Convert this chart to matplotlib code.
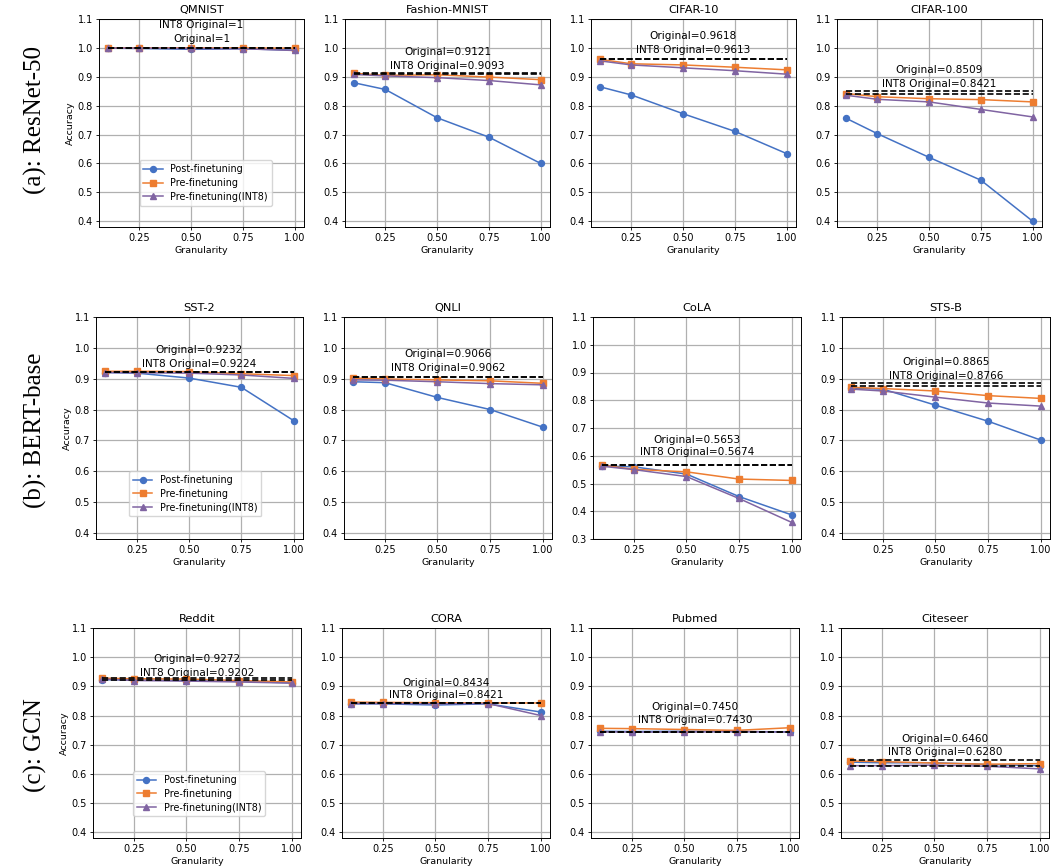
import numpy as np
import matplotlib
matplotlib.use('Agg')
import matplotlib.pyplot as plt

plt.rcParams['font.family'] = 'DejaVu Sans'
plt.rcParams['font.size'] = 6.8

# granularity values on the x axis
granularity = [0.1, 0.25, 0.5, 0.75, 1.0]

# dataset names, row by row
names = ['QMNIST', 'Fashion-MNIST', 'CIFAR-10', 'CIFAR-100',
         'SST-2', 'QNLI', 'CoLA', 'STS-B',
         'Reddit', 'CORA', 'Pubmed', 'Citeseer']

# original accuracies (fp32 and INT8), as printed in each panel
original = ['1', '0.9121', '0.9618', '0.8509',
            '0.9232', '0.9066', '0.5653', '0.8865',
            '0.9272', '0.8434', '0.7450', '0.6460']
int8_original = ['1', '0.9093', '0.9613', '0.8421',
                 '0.9224', '0.9062', '0.5674', '0.8766',
                 '0.9202', '0.8421', '0.7430', '0.6280']

# accuracy curves
post_ft = [
    [0.999, 0.998, 0.995, 0.997, 0.992],
    [0.879, 0.856, 0.758, 0.691, 0.600],
    [0.865, 0.837, 0.772, 0.711, 0.634],
    [0.756, 0.703, 0.621, 0.542, 0.400],
    [0.920, 0.918, 0.902, 0.872, 0.764],
    [0.890, 0.887, 0.839, 0.800, 0.743],
    [0.563, 0.560, 0.534, 0.453, 0.387],
    [0.869, 0.866, 0.814, 0.762, 0.701],
    [0.923, 0.922, 0.920, 0.917, 0.912],
    [0.840, 0.840, 0.836, 0.840, 0.812],
    [0.746, 0.745, 0.746, 0.745, 0.744],
    [0.640, 0.638, 0.638, 0.632, 0.628],
]
pre_ft = [
    [1.000, 1.000, 1.000, 1.000, 0.999],
    [0.912, 0.905, 0.907, 0.899, 0.890],
    [0.960, 0.945, 0.941, 0.933, 0.924],
    [0.842, 0.831, 0.824, 0.821, 0.813],
    [0.924, 0.924, 0.923, 0.916, 0.910],
    [0.902, 0.899, 0.896, 0.893, 0.885],
    [0.566, 0.551, 0.542, 0.516, 0.511],
    [0.872, 0.868, 0.860, 0.845, 0.836],
    [0.928, 0.926, 0.925, 0.920, 0.915],
    [0.846, 0.845, 0.844, 0.843, 0.843],
    [0.756, 0.755, 0.752, 0.749, 0.758],
    [0.644, 0.642, 0.637, 0.633, 0.635],
]
pre_ft_int8 = [
    [0.999, 0.999, 0.998, 0.997, 0.991],
    [0.908, 0.903, 0.897, 0.887, 0.872],
    [0.955, 0.941, 0.931, 0.921, 0.909],
    [0.836, 0.822, 0.813, 0.787, 0.761],
    [0.920, 0.919, 0.918, 0.912, 0.901],
    [0.896, 0.895, 0.890, 0.884, 0.880],
    [0.562, 0.550, 0.525, 0.446, 0.360],
    [0.866, 0.860, 0.840, 0.821, 0.811],
    [0.925, 0.920, 0.918, 0.915, 0.911],
    [0.841, 0.841, 0.840, 0.841, 0.800],
    [0.744, 0.743, 0.743, 0.745, 0.743],
    [0.628, 0.628, 0.630, 0.626, 0.617],
]

row_labels = ['(a): ResNet-50', '(b): BERT-base', '(c): GCN']

# layout in pixels (left, top, width, height) for each panel
W, H = 1052, 867
rects = [
    (99, 19, 205, 208), (345, 19, 205, 208), (591, 19, 205, 208), (837, 19, 205, 208),
    (96, 317, 207, 222), (344, 317, 208, 222), (593, 317, 208, 222), (842, 317, 208, 222),
    (93, 628, 208, 210), (342, 628, 208, 210), (591, 628, 208, 210), (841, 628, 208, 210),
]
# y of the two annotation lines (Original, INT8 Original) in data units
text_y = [
    (1.030, 1.079), (0.985, 0.936), (1.041, 0.991), (0.925, 0.876),
    (0.994, 0.948), (0.981, 0.935), (0.658, 0.612), (0.955, 0.910),
    (0.994, 0.947), (0.913, 0.869), (0.828, 0.784), (0.719, 0.675),
]
label_y = [120, 430, 745]
legend_x = [0.52, 0.48, 0.51]

c_post = '#4472C4'
c_pre = '#ED7D31'
c_int8 = '#8064A2'

fig = plt.figure(figsize=(W / 100, H / 100), dpi=100)

for i, name in enumerate(names):
    l, t, w, h = rects[i]
    ax = fig.add_axes([l / W, (H - t - h) / H, w / W, h / H])
    ax.plot(granularity, post_ft[i], marker='o', color=c_post, lw=1.1, ms=4.3,
            label='Post-finetuning')
    ax.plot(granularity, pre_ft[i], marker='s', color=c_pre, lw=1.1, ms=4.3,
            label='Pre-finetuning')
    ax.plot(granularity, pre_ft_int8[i], marker='^', color=c_int8, lw=1.1, ms=4.3,
            label='Pre-finetuning(INT8)')
    ax.hlines([float(original[i]), float(int8_original[i])], granularity[0], granularity[-1],
              colors='black', linestyles='--', lw=1.2)
    ax.text(0.55, text_y[i][0], 'Original=' + original[i], ha='center', va='center',
            fontsize=7.6)
    ax.text(0.55, text_y[i][1], 'INT8 Original=' + int8_original[i], ha='center',
            va='center', fontsize=7.6)

    if name == 'CoLA':
        ax.set_ylim(0.3, 1.1)
        ax.set_yticks(np.arange(0.3, 1.11, 0.1))
    else:
        ax.set_ylim(0.38, 1.1)
        ax.set_yticks(np.arange(0.4, 1.11, 0.1))
    ax.set_yticklabels(['%.1f' % v for v in ax.get_yticks()])
    ax.set_xticks([0.25, 0.5, 0.75, 1.0])
    ax.set_xticklabels(['0.25', '0.50', '0.75', '1.00'])
    ax.grid(True, color='#b0b0b0', lw=0.9)
    ax.set_axisbelow(True)
    ax.tick_params(length=2.4, width=0.6, pad=2, labelsize=7.0)
    for s in ax.spines.values():
        s.set_linewidth(0.7)
    ax.set_title(name, fontsize=8.2, pad=4)
    ax.set_xlabel('Granularity', labelpad=2)
    if i % 4 == 0:
        ax.set_ylabel('Accuracy', labelpad=2)
        ax.legend(loc='lower center', bbox_to_anchor=(legend_x[i // 4], 0.08),
                  fontsize=6.9, handlelength=2.0, borderpad=0.4, labelspacing=0.4)

for r, lab in enumerate(row_labels):
    fig.text(35 / W, (H - label_y[r]) / H, lab, rotation=90, ha='center', va='center',
             fontsize=18, family='Liberation Serif')

plt.savefig('out.png', dpi=100)
plt.close()
